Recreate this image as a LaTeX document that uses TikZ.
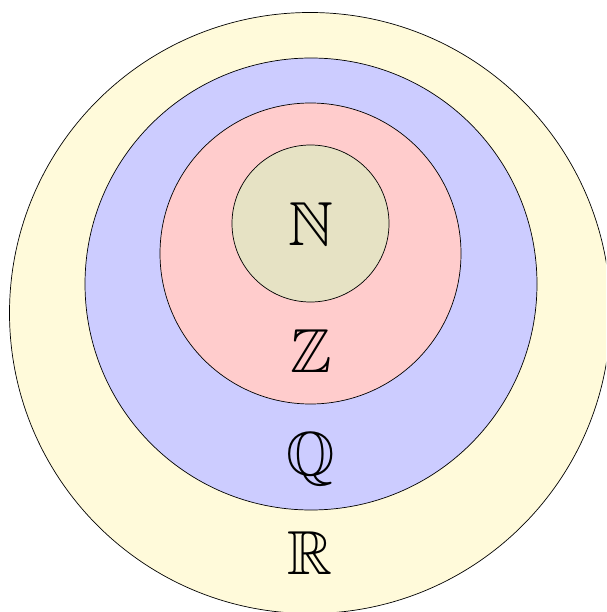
\documentclass[tikz,border=0pt]{standalone}
\usepackage{amssymb}
\usepackage{tikz}

\definecolor{realfill}{RGB}{255,250,218}
\definecolor{ratfill}{RGB}{204,204,255}
\definecolor{intfill}{RGB}{255,204,204}
\definecolor{natfill}{RGB}{230,226,196}

\begin{document}
\begin{tikzpicture}[
    x=1pt, y=-1pt,
    set/.style={circle, draw=black, line width=0.7pt, inner sep=0pt},
    setname/.style={anchor=base, font=\Huge, scale=2.5, inner sep=0pt}
]
\useasboundingbox (0,0) rectangle (606,612);
\clip (0,0) rectangle (606,612);

% Sets, from the outside in
\node[set, fill=realfill, minimum size=601pt] (reals) at (310,313) {};
\node[set, fill=ratfill, minimum size=452pt] (rationals) at (311,284) {};
\node[set, fill=intfill, minimum size=301pt] (integers) at (310.5,253.5) {};
\node[set, fill=natfill, minimum size=157pt] (naturals) at (310.5,223.5) {};

% Labels
\node[setname] (nlabel) at (311,245) {$\mathbb{N}$};
\node[setname] (zlabel) at (311,372) {$\mathbb{Z}$};
\node[setname] (qlabel) at (311,475) {$\mathbb{Q}$};
\node[setname] (rlabel) at (310,574) {$\mathbb{R}$};
\end{tikzpicture}
\end{document}
